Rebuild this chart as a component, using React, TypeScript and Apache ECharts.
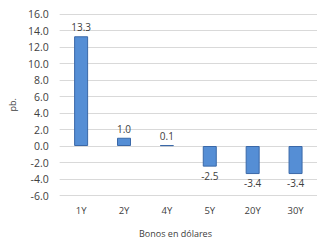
import React, { useEffect, useRef } from "react";
import * as echarts from "echarts";

const categories = ["1Y", "2Y", "4Y", "5Y", "20Y", "30Y"];
const values = [13.3, 1.0, 0.1, -2.5, -3.4, -3.4];
const yMin = -6;
const yMax = 16;
const yStep = 2;
const yName = "pb.";
const xName = "Bonos en dólares";

const FONT = "'Open Sans', 'Liberation Sans', sans-serif";
const TXT = "#404040";

export default function App() {
  const ref = useRef<HTMLDivElement>(null);
  useEffect(() => {
    if (!ref.current) return;
    const chart = echarts.init(ref.current, undefined, { renderer: "svg" });
    chart.setOption({
      animation: false,
      backgroundColor: "#ffffff",
      grid: { left: 55.6, top: 14, width: 266, height: 181.5, containLabel: false },
      xAxis: {
        type: "category",
        data: categories,
        axisLine: { show: false },
        axisTick: { show: false },
        axisLabel: { color: TXT, fontSize: 9.5, fontFamily: FONT, margin: 10 },
      },
      yAxis: {
        type: "value",
        min: yMin,
        max: yMax,
        interval: yStep,
        name: yName,
        nameLocation: "middle",
        nameGap: 41,
        nameRotate: 90,
        nameTextStyle: { color: TXT, fontSize: 9, fontFamily: FONT },
        axisLine: { show: false },
        axisTick: { show: false },
        axisLabel: {
          color: TXT,
          fontSize: 10.5,
          fontFamily: FONT,
          margin: 11,
          formatter: (v: number) => v.toFixed(1),
        },
        splitLine: { lineStyle: { color: "#D9D9D9", width: 1 } },
      },
      graphic: [
        {
          type: "text",
          x: 175.5,
          y: 233,
          style: {
            text: xName,
            fill: TXT,
            fontSize: 9,
            fontFamily: FONT,
            align: "center",
            verticalAlign: "middle",
          },
        },
      ],
      series: [
        {
          type: "bar",
          barWidth: 14,
          data: values.map((v) => ({
            value: v,
            label: { position: v < 0 ? "bottom" : "top" },
          })),
          itemStyle: { color: "#558ED5", borderColor: "#3A68A8", borderWidth: 1 },
          label: {
            show: true,
            color: TXT,
            fontSize: 10,
            fontFamily: FONT,
            distance: 4,
            formatter: (p: any) => Number(p.value).toFixed(1),
          },
        },
      ],
    });
    return () => chart.dispose();
  }, []);
  return (
    <div
      ref={ref}
      style={{ position: "absolute", left: 0, top: 0, width: 317, height: 240 }}
    />
  );
}
